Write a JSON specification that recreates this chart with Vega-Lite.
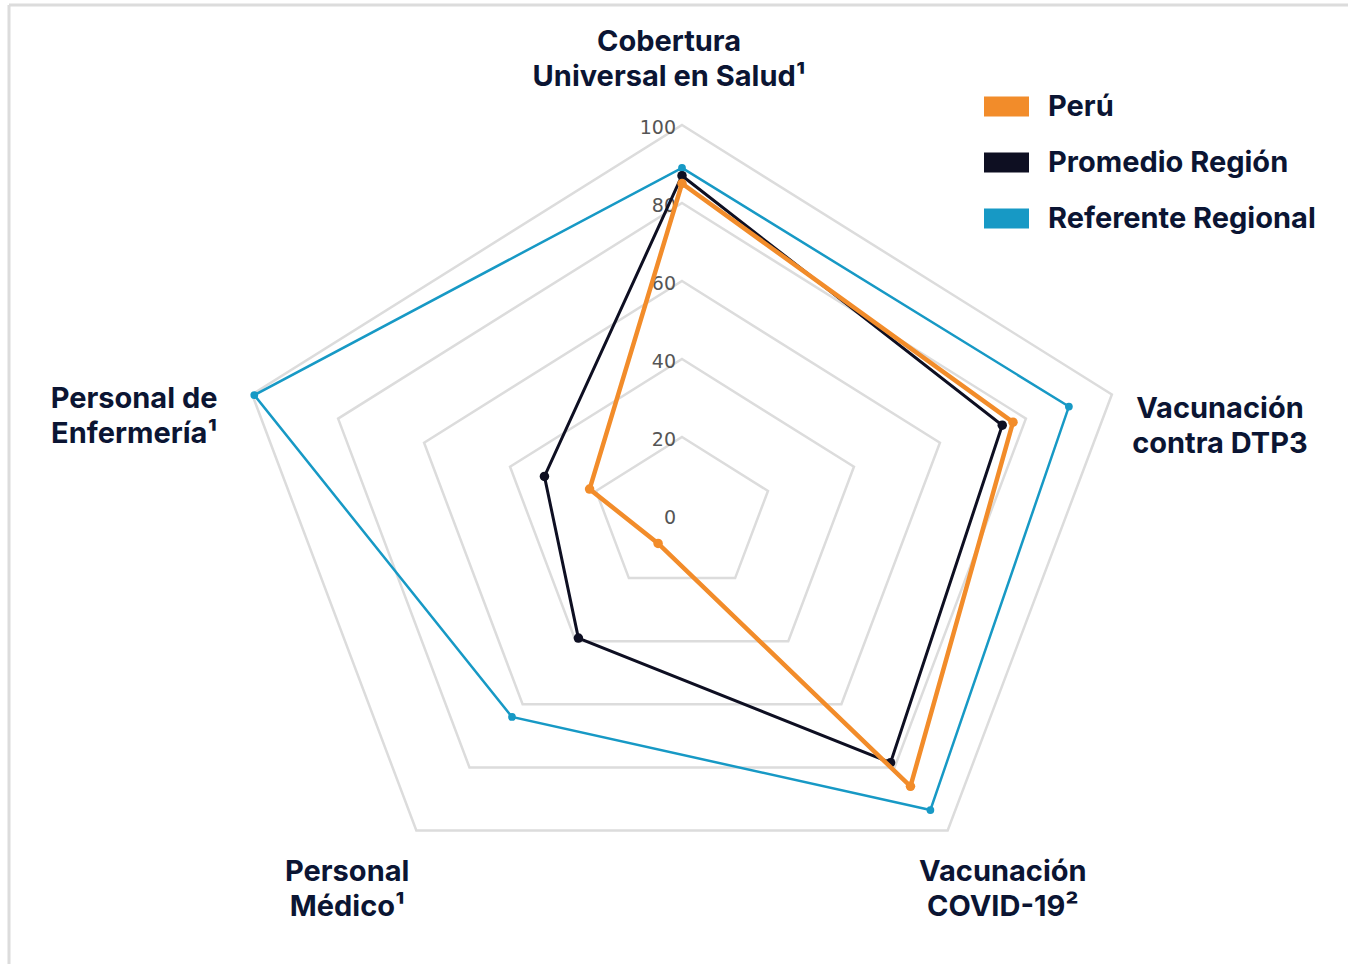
{
  "$schema": "https://vega.github.io/schema/vega-lite/v6.json",
  "width": 1339,
  "height": 959,
  "padding": {"left": 9, "top": 5, "right": 0, "bottom": 0},
  "autosize": {"type": "none"},
  "background": "white",
  "config": {
    "view": {"stroke": null},
    "font": "Inter",
    "legend": {
      "orient": "none",
      "legendX": 975,
      "legendY": 79,
      "padding": 0,
      "offset": 0,
      "title": null,
      "labelFont": "Inter",
      "labelFontSize": 29,
      "labelFontWeight": "bold",
      "labelColor": "#0B1533",
      "labelLimit": 500,
      "labelOffset": 19,
      "rowPadding": 18,
      "symbolType": "M-1,-0.444H1V0.444H-1Z",
      "symbolSize": 2025,
      "symbolStrokeWidth": 0,
      "symbolOpacity": 1
    }
  },
  "datasets": {
    "series": [
      {"series": "Perú", "k": 0, "value": 85},
      {"series": "Perú", "k": 1, "value": 77},
      {"series": "Perú", "k": 2, "value": 86},
      {"series": "Perú", "k": 3, "value": 9},
      {"series": "Perú", "k": 4, "value": 21.5},
      {"series": "Promedio Región", "k": 0, "value": 87},
      {"series": "Promedio Región", "k": 1, "value": 74.5},
      {"series": "Promedio Región", "k": 2, "value": 78.5},
      {"series": "Promedio Región", "k": 3, "value": 39},
      {"series": "Promedio Región", "k": 4, "value": 32},
      {"series": "Referente Regional", "k": 0, "value": 89},
      {"series": "Referente Regional", "k": 1, "value": 90},
      {"series": "Referente Regional", "k": 2, "value": 93.5},
      {"series": "Referente Regional", "k": 3, "value": 64},
      {"series": "Referente Regional", "k": 4, "value": 99.5}
    ],
    "grid": [
      {"level": 20, "k": [0, 1, 2, 3, 4]},
      {"level": 40, "k": [0, 1, 2, 3, 4]},
      {"level": 60, "k": [0, 1, 2, 3, 4]},
      {"level": 80, "k": [0, 1, 2, 3, 4]},
      {"level": 100, "k": [0, 1, 2, 3, 4]}
    ],
    "ticks": [
      {"tick": 0}, {"tick": 20}, {"tick": 40}, {"tick": 60}, {"tick": 80}, {"tick": 100}
    ],
    "cats": [
      {"k": 0, "label": "Cobertura\nUniversal en Salud¹"},
      {"k": 1, "label": "Vacunación\ncontra DTP3"},
      {"k": 2, "label": "Vacunación\nCOVID-19²"},
      {"k": 3, "label": "Personal\nMédico¹"},
      {"k": 4, "label": "Personal de\nEnfermería¹"}
    ]
  },
  "layer": [
    {
      "data": {"name": "grid"},
      "transform": [
        {"flatten": ["k"]},
        {"calculate": "PI/2 - datum.k*2*PI/5", "as": "a"},
        {"calculate": "datum.level*cos(datum.a)", "as": "x"},
        {"calculate": "datum.level*sin(datum.a)", "as": "y"}
      ],
      "mark": {"type": "line", "interpolate": "linear-closed", "stroke": "#DCDCDC", "strokeWidth": 2.5},
      "encoding": {
        "x": {"field": "x", "type": "quantitative", "scale": {"domain": [-148.9, 147.35], "nice": false, "zero": false}, "axis": null},
        "y": {"field": "y", "type": "quantitative", "scale": {"domain": [-115.13, 130.77], "nice": false, "zero": false}, "axis": null},
        "detail": {"field": "level", "type": "nominal"},
        "order": {"field": "k", "type": "quantitative"}
      }
    },
    {
      "data": {"values": [{}]},
      "mark": {"type": "rule", "stroke": "#DCDCDC", "strokeWidth": 3},
      "encoding": {"y": {"datum": 130.77, "type": "quantitative"}}
    },
    {
      "data": {"values": [{}]},
      "mark": {"type": "rule", "stroke": "#DCDCDC", "strokeWidth": 3},
      "encoding": {"x": {"datum": -148.9, "type": "quantitative"}}
    },
    {
      "data": {"name": "ticks"},
      "transform": [{"calculate": "0", "as": "x"}],
      "mark": {"type": "text", "font": "DejaVu Sans", "fontSize": 19, "color": "#555555", "align": "right", "baseline": "middle", "dx": -6, "dy": 3},
      "encoding": {
        "x": {"field": "x", "type": "quantitative"},
        "y": {"field": "tick", "type": "quantitative"},
        "text": {"field": "tick", "type": "quantitative"}
      }
    },
    {
      "data": {"name": "series"},
      "transform": [
        {"filter": "datum.series === 'Referente Regional'"},
        {"calculate": "PI/2 - datum.k*2*PI/5", "as": "a"},
        {"calculate": "datum.value*cos(datum.a)", "as": "x"},
        {"calculate": "datum.value*sin(datum.a)", "as": "y"}
      ],
      "encoding": {
        "x": {"field": "x", "type": "quantitative"},
        "y": {"field": "y", "type": "quantitative"},
        "order": {"field": "k", "type": "quantitative"},
        "color": {
          "field": "series", "type": "nominal",
          "scale": {"domain": ["Perú", "Promedio Región", "Referente Regional"], "range": ["#F28C2A", "#0E0F22", "#1799C5"]},
          "legend": {
            "encode": {"symbols": {"update": {"fill": {"scale": "color", "field": "value"}, "stroke": {"value": "transparent"}, "opacity": {"value": 1}}}}
          }
        }
      },
      "layer": [
        {"mark": {"type": "line", "interpolate": "linear-closed", "strokeWidth": 2.5}},
        {"mark": {"type": "point", "filled": true, "opacity": 1, "size": 60}}
      ]
    },
    {
      "data": {"name": "series"},
      "transform": [
        {"filter": "datum.series === 'Promedio Región'"},
        {"calculate": "PI/2 - datum.k*2*PI/5", "as": "a"},
        {"calculate": "datum.value*cos(datum.a)", "as": "x"},
        {"calculate": "datum.value*sin(datum.a)", "as": "y"}
      ],
      "encoding": {
        "x": {"field": "x", "type": "quantitative"},
        "y": {"field": "y", "type": "quantitative"},
        "order": {"field": "k", "type": "quantitative"},
        "color": {"field": "series", "type": "nominal"}
      },
      "layer": [
        {"mark": {"type": "line", "interpolate": "linear-closed", "strokeWidth": 3}},
        {"mark": {"type": "point", "filled": true, "opacity": 1, "size": 90}}
      ]
    },
    {
      "data": {"name": "series"},
      "transform": [
        {"filter": "datum.series === 'Perú'"},
        {"calculate": "PI/2 - datum.k*2*PI/5", "as": "a"},
        {"calculate": "datum.value*cos(datum.a)", "as": "x"},
        {"calculate": "datum.value*sin(datum.a)", "as": "y"}
      ],
      "encoding": {
        "x": {"field": "x", "type": "quantitative"},
        "y": {"field": "y", "type": "quantitative"},
        "order": {"field": "k", "type": "quantitative"},
        "color": {"field": "series", "type": "nominal"}
      },
      "layer": [
        {"mark": {"type": "line", "interpolate": "linear-closed", "strokeWidth": 4.5}},
        {"mark": {"type": "point", "filled": true, "opacity": 1, "size": 90}}
      ]
    },
    {
      "data": {"name": "cats"},
      "transform": [
        {"filter": "datum.k === 0"},
        {"calculate": "PI/2 - datum.k*2*PI/5", "as": "a"},
        {"calculate": "117*cos(datum.a)", "as": "x"},
        {"calculate": "117*sin(datum.a)", "as": "y"}
      ],
      "mark": {"type": "text", "font": "Inter", "fontSize": 29, "fontWeight": "bold", "color": "#0B1533", "align": "center", "baseline": "middle", "lineBreak": "\n", "lineHeight": 35, "dx": -13, "dy": -17},
      "encoding": {
        "x": {"field": "x", "type": "quantitative"},
        "y": {"field": "y", "type": "quantitative"},
        "text": {"field": "label"}
      }
    },
    {
      "data": {"name": "cats"},
      "transform": [
        {"filter": "datum.k === 1"},
        {"calculate": "PI/2 - datum.k*2*PI/5", "as": "a"},
        {"calculate": "117*cos(datum.a)", "as": "x"},
        {"calculate": "117*sin(datum.a)", "as": "y"}
      ],
      "mark": {"type": "text", "font": "Inter", "fontSize": 29, "fontWeight": "bold", "color": "#0B1533", "align": "center", "baseline": "middle", "lineBreak": "\n", "lineHeight": 35, "dx": 35, "dy": 35},
      "encoding": {
        "x": {"field": "x", "type": "quantitative"},
        "y": {"field": "y", "type": "quantitative"},
        "text": {"field": "label"}
      }
    },
    {
      "data": {"name": "cats"},
      "transform": [
        {"filter": "datum.k === 2"},
        {"calculate": "PI/2 - datum.k*2*PI/5", "as": "a"},
        {"calculate": "117*cos(datum.a)", "as": "x"},
        {"calculate": "117*sin(datum.a)", "as": "y"}
      ],
      "mark": {"type": "text", "font": "Inter", "fontSize": 29, "fontWeight": "bold", "color": "#0B1533", "align": "center", "baseline": "middle", "lineBreak": "\n", "lineHeight": 35, "dx": 10, "dy": -12},
      "encoding": {
        "x": {"field": "x", "type": "quantitative"},
        "y": {"field": "y", "type": "quantitative"},
        "text": {"field": "label"}
      }
    },
    {
      "data": {"name": "cats"},
      "transform": [
        {"filter": "datum.k === 3"},
        {"calculate": "PI/2 - datum.k*2*PI/5", "as": "a"},
        {"calculate": "117*cos(datum.a)", "as": "x"},
        {"calculate": "117*sin(datum.a)", "as": "y"}
      ],
      "mark": {"type": "text", "font": "Inter", "fontSize": 29, "fontWeight": "bold", "color": "#0B1533", "align": "center", "baseline": "middle", "lineBreak": "\n", "lineHeight": 35, "dx": -24, "dy": -12},
      "encoding": {
        "x": {"field": "x", "type": "quantitative"},
        "y": {"field": "y", "type": "quantitative"},
        "text": {"field": "label"}
      }
    },
    {
      "data": {"name": "cats"},
      "transform": [
        {"filter": "datum.k === 4"},
        {"calculate": "PI/2 - datum.k*2*PI/5", "as": "a"},
        {"calculate": "117*cos(datum.a)", "as": "x"},
        {"calculate": "117*sin(datum.a)", "as": "y"}
      ],
      "mark": {"type": "text", "font": "Inter", "fontSize": 29, "fontWeight": "bold", "color": "#0B1533", "align": "center", "baseline": "middle", "lineBreak": "\n", "lineHeight": 35, "dx": -45, "dy": 25},
      "encoding": {
        "x": {"field": "x", "type": "quantitative"},
        "y": {"field": "y", "type": "quantitative"},
        "text": {"field": "label"}
      }
    }
  ]
}
